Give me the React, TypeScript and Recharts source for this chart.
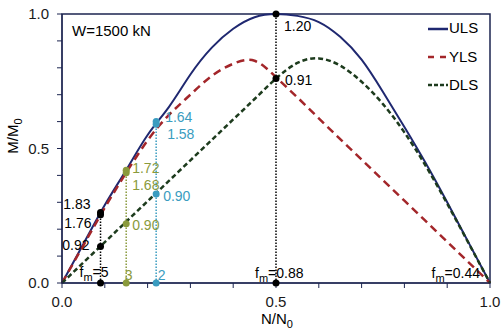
import { ComposedChart, Line, XAxis, YAxis, ReferenceLine, ReferenceDot, ReferenceArea } from 'recharts';

// N/N0 sample points and the three limit-state curves (M/M0)
const nValues = [0, 0.05, 0.1, 0.15, 0.2, 0.25, 0.3, 0.35, 0.4, 0.45, 0.5, 0.55, 0.6, 0.65, 0.7, 0.75, 0.8, 0.85, 0.9, 0.95, 1.0];
const ulsValues = [0, 0.145, 0.29, 0.42, 0.55, 0.655, 0.775, 0.875, 0.945, 0.988, 1.0, 0.993, 0.97, 0.915, 0.83, 0.71, 0.58, 0.445, 0.3, 0.15, 0];
const ylsValues = [0, 0.14, 0.28, 0.41, 0.53, 0.625, 0.7, 0.77, 0.815, 0.826, 0.765, 0.69, 0.612, 0.535, 0.459, 0.382, 0.306, 0.23, 0.153, 0.077, 0];
const dlsValues = [0, 0.076, 0.152, 0.228, 0.304, 0.38, 0.456, 0.532, 0.608, 0.684, 0.76, 0.818, 0.835, 0.808, 0.748, 0.665, 0.56, 0.435, 0.295, 0.148, 0];

const axisTicks = [0, 0.1, 0.2, 0.3, 0.4, 0.5, 0.6, 0.7, 0.8, 0.9, 1.0];

// marked points for each f_m case
const markerN = [0.09, 0.15, 0.22, 0.5];
const markerUls = [0.262, 0.419, 0.6, 1.0];
const markerYls = [0.254, 0.41, 0.59];
const markerDls = [0.136, 0.22, 0.331, 0.76];
const ulsRatios = ['1.83', '1.72', '1.64', '1.20'];
const ylsRatios = ['1.76', '1.68', '1.58'];
const dlsRatios = ['0.92', '0.90', '0.90', '0.91'];
const fmValues = ['5', '3', '2', '0.88'];
const fmPrefixed = [true, false, false, true];
const fmLast = '0.44';

const chartData = nValues.map((n, i) => ({ n, uls: ulsValues[i], yls: ylsValues[i], dls: dlsValues[i] }));

const NAVY = '#1f2870';
const FRAME = '#1c2550';
const RED = '#a3262a';
const GREEN = '#1d3b1d';
const groupColors = ['#000000', '#8a9a3c', '#3a9cc0', '#000000'];
const FONT = '"Liberation Sans", Arial, sans-serif';

type Off = { dx: number; dy: number; anchor: 'start' | 'end' };
const ulsOff: Off[] = [
    { dx: -10, dy: -4, anchor: 'end' },
    { dx: 6, dy: 3, anchor: 'start' },
    { dx: 9, dy: 0.5, anchor: 'start' },
    { dx: 8, dy: 16.5, anchor: 'start' },
];
const ylsOff: Off[] = [
    { dx: -9, dy: 13.5, anchor: 'end' },
    { dx: 6, dy: 17.5, anchor: 'start' },
    { dx: 11, dy: 14.5, anchor: 'start' },
];
const dlsOff: Off[] = [
    { dx: -11, dy: 3.5, anchor: 'end' },
    { dx: 6, dy: 6, anchor: 'start' },
    { dx: 7, dy: 7.5, anchor: 'start' },
    { dx: 9, dy: 6, anchor: 'start' },
];
const fmOff: Off[] = [
    { dx: -21, dy: -6, anchor: 'start' },
    { dx: -1.5, dy: -3.5, anchor: 'start' },
    { dx: 1.5, dy: -3.5, anchor: 'start' },
    { dx: -21, dy: -5.5, anchor: 'start' },
];

const labelContent = (text: string, color: string, off: Off, fm = false) => (props: any) => {
    const vb = props.viewBox || { x: 0, y: 0, width: 0, height: 0 };
    const cx = vb.x + (vb.width || 0) / 2;
    const cy = vb.y + (vb.height || 0) / 2;
    return (
        <text x={cx + off.dx} y={cy + off.dy} textAnchor={off.anchor} fill={color} fontSize={14} fontFamily={FONT}>
            {fm ? (
                <>
                    f<tspan dy={4} fontSize={11}>m</tspan>
                    <tspan dy={-4}>={text}</tspan>
                </>
            ) : text}
        </text>
    );
};

const tickFmt = (v: number) => (Math.abs(v * 2 - Math.round(v * 2)) < 1e-6 ? v.toFixed(1) : '');

export default function App() {
    return (
        <div style={{ position: 'absolute', left: 0, top: 0, width: 502, height: 332, background: '#fff' }}>
            <ComposedChart width={502} height={332} data={chartData} margin={{ top: 14, right: 12, bottom: 0, left: 0 }}>
                <XAxis
                    dataKey="n"
                    type="number"
                    domain={[0, 1]}
                    ticks={axisTicks}
                    interval={0}
                    tickFormatter={tickFmt}
                    tickSize={5}
                    tickMargin={8}
                    height={49}
                    stroke={FRAME}
                    tick={{ fill: '#1a1a1a', fontSize: 15, fontFamily: FONT }}
                />
                <YAxis
                    type="number"
                    domain={[0, 1]}
                    ticks={axisTicks}
                    interval={0}
                    tickFormatter={tickFmt}
                    tickSize={5}
                    tickMargin={8}
                    width={62}
                    stroke={FRAME}
                    tick={{ fill: '#1a1a1a', fontSize: 15, fontFamily: FONT }}
                />
                <ReferenceArea x1={0} x2={1} y1={0} y2={1} fill="none" fillOpacity={0} stroke={FRAME} strokeWidth={1.5} ifOverflow="visible" />

                {markerN.map((n, i) => (
                    <ReferenceLine
                        key={`vl-${i}`}
                        segment={[{ x: n, y: 0 }, { x: n, y: markerUls[i] }]}
                        stroke={groupColors[i]}
                        strokeWidth={1.5}
                        strokeDasharray="1.5 1.5"
                        ifOverflow="visible"
                    />
                ))}

                <Line type="natural" dataKey="uls" stroke={NAVY} strokeWidth={2} dot={false} isAnimationActive={false} />
                <Line type="natural" dataKey="yls" stroke={RED} strokeWidth={2.5} strokeDasharray="8 5" dot={false} isAnimationActive={false} />
                <Line type="natural" dataKey="dls" stroke={GREEN} strokeWidth={2.5} strokeDasharray="5 3" dot={false} isAnimationActive={false} />

                {markerN.map((n, i) => (
                    <ReferenceDot key={`u-${i}`} x={n} y={markerUls[i]} r={3.5} fill={groupColors[i]} stroke="none" ifOverflow="visible"
                        label={{ content: labelContent(ulsRatios[i], groupColors[i], ulsOff[i]) }} />
                ))}
                {markerYls.map((m, i) => (
                    <ReferenceDot key={`y-${i}`} x={markerN[i]} y={m} r={3.5} fill={groupColors[i]} stroke="none" ifOverflow="visible"
                        label={{ content: labelContent(ylsRatios[i], groupColors[i], ylsOff[i]) }} />
                ))}
                {markerDls.map((m, i) => (
                    <ReferenceDot key={`d-${i}`} x={markerN[i]} y={m} r={3.5} fill={groupColors[i]} stroke="none" ifOverflow="visible"
                        label={{ content: labelContent(dlsRatios[i], groupColors[i], dlsOff[i]) }} />
                ))}
                {markerN.map((n, i) => (
                    <ReferenceDot key={`f-${i}`} x={n} y={0} r={3.5} fill={groupColors[i]} stroke="none" ifOverflow="visible"
                        label={{ content: labelContent(fmValues[i], groupColors[i], fmOff[i], fmPrefixed[i]) }} />
                ))}
                <ReferenceDot x={1} y={0} r={0} fill="none" stroke="none" ifOverflow="visible"
                    label={{ content: labelContent(fmLast, '#000000', { dx: -10, dy: -5.5, anchor: 'end' }, true) }} />

                <text x={72} y={36} fontSize={15} fontFamily={FONT} fill="#000">W=1500 kN</text>

                <g fontFamily={FONT} fontSize={15} fill="#000">
                    <line x1={428} x2={448} y1={29} y2={29} stroke={NAVY} strokeWidth={2.5} />
                    <text x={449} y={33}>ULS</text>
                    <line x1={428} x2={448} y1={57} y2={57} stroke={RED} strokeWidth={2.5} strokeDasharray="6 6" />
                    <text x={449} y={62}>YLS</text>
                    <line x1={428} x2={448} y1={85} y2={85} stroke={GREEN} strokeWidth={2.5} strokeDasharray="4 2" />
                    <text x={449} y={89.5}>DLS</text>
                </g>

                <text x={277} y={324} textAnchor="middle" fontSize={15} fontFamily={FONT} fill="#000">
                    N/N<tspan dy={4} fontSize={11}>0</tspan>
                </text>
                <text transform="translate(18,136) rotate(-90)" textAnchor="middle" fontSize={15} fontFamily={FONT} fill="#000">
                    M/M<tspan dy={4} fontSize={11}>0</tspan>
                </text>
            </ComposedChart>
        </div>
    );
}
